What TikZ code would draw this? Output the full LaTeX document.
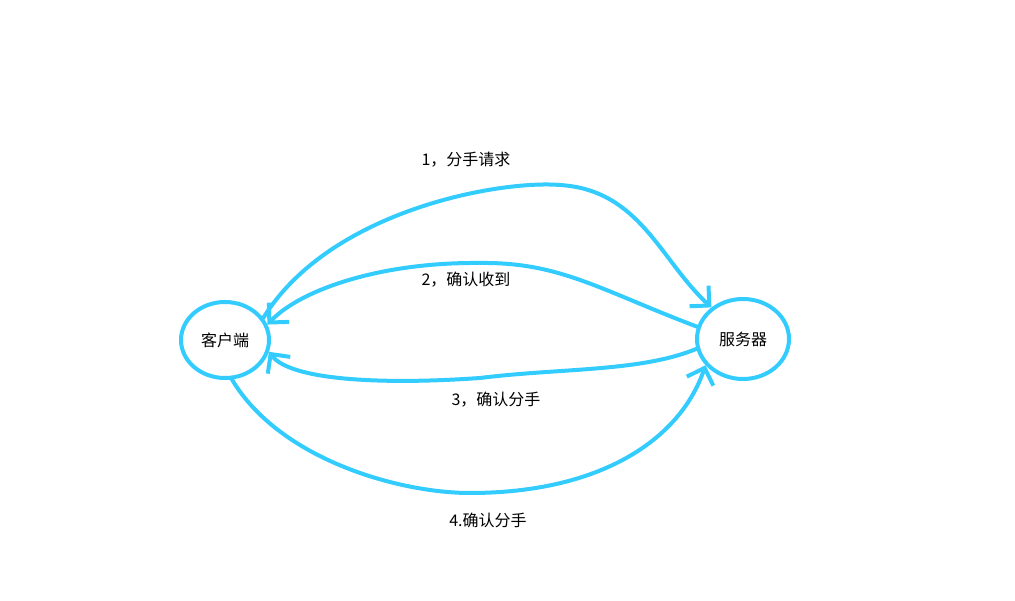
\documentclass[tikz,border=0pt]{standalone}
\usepackage{fontspec}
\newfontfamily\cjk{Noto Sans CJK SC}
\usetikzlibrary{arrows.meta,shapes.geometric}
\definecolor{sky}{RGB}{51,204,255}
\begin{document}
\begin{tikzpicture}[x=1pt,y=-1pt,
  ell/.style={draw=sky,line width=4pt,ellipse,inner sep=0pt},
  con/.style={draw=sky,line width=4pt,line cap=round,-{Straight Barb[length=14pt,width=28pt]}},
  lab/.style={font=\cjk\fontsize{16}{18}\selectfont}]
\useasboundingbox[fill=white] (0,0) rectangle (1015,601);
\node[ell,minimum width=88pt,minimum height=76pt,font=\cjk\fontsize{16}{18}\selectfont] (c) at (225,340) {客户端};
\node[ell,minimum width=92pt,minimum height=80pt,font=\cjk\fontsize{16}{18}\selectfont] (s) at (743,339) {服务器};
\draw[con] (c.30) .. controls (330,210) and (500,180) .. (560,185) .. controls (640,190) and (660,260) .. (s.135);
\draw[con] (s.165) .. controls (600,290) and (560,262) .. (480,263) .. controls (380,262) and (300,290) .. (c.20);
\draw[con] (s.192) .. controls (640,372) and (560,368) .. (480,378) .. controls (380,385) and (290,380) .. (c.-15);
\draw[con] (c.-80) .. controls (280,460) and (400,493) .. (470,493) .. controls (600,493) and (680,440) .. (s.-145);
\node[lab] (l1) at (466,160) {1，分手请求};
\node[lab] (l2) at (466,280) {2，确认收到};
\node[lab] (l3) at (496,400) {3，确认分手};
\node[lab] (l4) at (488,520) {4.确认分手};
\end{tikzpicture}
\end{document}
